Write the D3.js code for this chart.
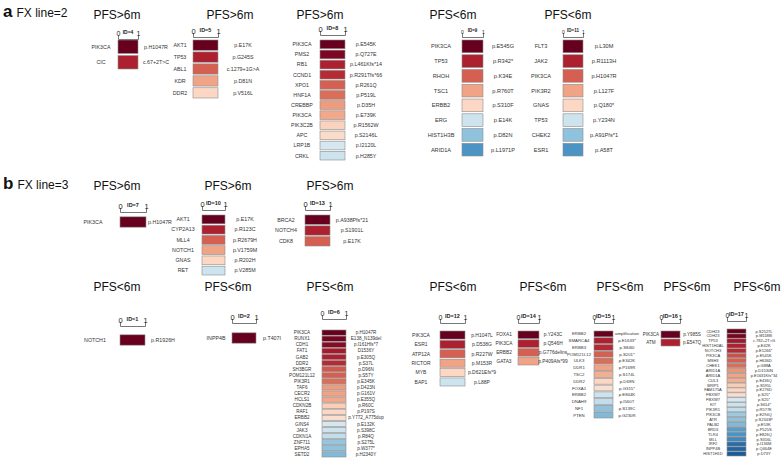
<!DOCTYPE html>
<html><head><meta charset="utf-8">
<script src="https://cdn.jsdelivr.net/npm/d3@7"></script>
<style>body{margin:0;background:#fff}svg{display:block;font-family:"Liberation Sans",Arial,sans-serif}</style>
</head><body><svg id="c" width="783" height="459"></svg>
<script>
// ---------- DATA ----------
const patientIds = [4,5,8,9,11, 7,10,13, 1,2,6,12,14,15,16,17];
const pfsLabels  = ["PFS>6m","PFS>6m","PFS>6m","PFS<6m","PFS<6m",
                    "PFS>6m","PFS>6m","PFS>6m",
                    "PFS<6m","PFS<6m","PFS<6m","PFS<6m","PFS<6m","PFS<6m","PFS<6m","PFS<6m"];
const panelLabels = ["a","b"];
const panelTitles = ["FX line=2","FX line=3"];
const scaleTicks = [0,1];

const genes4 = ["PIK3CA","CIC"];
const muts4  = ["p.H1047R","c.67+2T>C"];
const vals4  = [1.0,0.9];

const genes5 = ["AKT1","TP53","ABL1","KDR","DDR2"];
const muts5  = ["p.E17K","p.G245S","c.1279+1G>A","p.D81N","p.V516L"];
const vals5  = [1.0,0.9,0.8,0.7,0.6];

const genes8 = ["PIK3CA","PMS2","RB1","CCND1","XPO1","HNF1A","CREBBP","PIK3CA","PIK3C2B","APC","LRP1B","CRKL"];
const muts8  = ["p.E545K","p.Q727E","p.L461Kfs*14","p.R291Tfs*66","p.R261Q","p.P519L","p.D35H","p.E739K","p.R1562W","p.S2146L","p.I2120L","p.H285Y"];
const vals8  = [1.0,0.97,0.9,0.88,0.8,0.78,0.71,0.69,0.61,0.59,0.42,0.4];

const genes9 = ["PIK3CA","TP53","RHOH","TSC1","ERBB2","ERG","HIST1H3B","ARID1A"];
const muts9  = ["p.E545G","p.R342*","p.K34E","p.R760T","p.S310F","p.E14K","p.D82N","p.L1971P"];
const vals9  = [1.0,0.9,0.8,0.7,0.6,0.4,0.3,0.2];

const genes11 = ["FLT3","JAK2","PIK3CA","PIK3R2","GNAS","TP53","CHEK2","ESR1"];
const muts11  = ["p.L30M","p.R1113H","p.H1047R","p.L127F","p.Q180*","p.Y234N","p.A91Pfs*1","p.A58T"];
const vals11  = [1.0,0.9,0.8,0.7,0.6,0.4,0.3,0.2];

const genes7 = ["PIK3CA"];
const muts7  = ["p.H1047R"];
const vals7  = [1.0];

const genes10 = ["AKT1","CYP2A13","MLL4","NOTCH1","GNAS","RET"];
const muts10  = ["p.E17K","p.R123C","p.R2679H","p.V1759M","p.R202H","p.V285M"];
const vals10  = [1.0,0.9,0.8,0.7,0.6,0.4];

const genes13 = ["BRCA2","NOTCH4","CDK8"];
const muts13  = ["p.A938Pfs*21","p.S1901L","p.E17K"];
const vals13  = [1.0,0.9,0.8];

const genes1 = ["NOTCH1"];
const muts1  = ["p.R1926H"];
const vals1  = [1.0];

const genes2 = ["INPP4B"];
const muts2  = ["p.T407I"];
const vals2  = [1.0];

const genes6 = ["PIK3CA","RUNX1","CDH1","FAT1","GAB2","DDR2","SH3BGR","POM121L12","PIK3R1","TAF6","CECR2","HCLS1","CDKN2B","RAF1","ERBB2","GINS4","JAK3","CDKN1A","ZNF711","EPHA5","SETD2"];
const muts6  = ["p.H1047R","E138_N139del","p.I161Hfs*7","D1536Y","p.E305Q","p.S37L","p.D96N","p.S57Y","p.E345K","p.D423N","p.G161V","p.E355Q","p.R60C","p.P197S","p.Y772_A775dup","p.E132K","p.S398C","p.R84Q","p.S275L","p.W377*","p.H2340Y"];
const vals6  = [1.0,0.98,0.96,0.91,0.9,0.88,0.81,0.8,0.78,0.71,0.7,0.69,0.62,0.6,0.58,0.42,0.4,0.38,0.31,0.3,0.28];

const genes12 = ["PIK3CA","ESR1","ATP12A","RICTOR","MYB","BAP1"];
const muts12  = ["p.H1047L","p.D538G","p.R227W","p.M153R","p.D621Efs*9","p.L88P"];
const vals12  = [1.0,0.9,0.8,0.7,0.6,0.4];

const genes14 = ["FOXA1","PIK3CA","ERBB2","GATA3"];
const muts14  = ["p.Y243C","p.Q546H","p.G776delins","p.P409Afs*99"];
const vals14  = [1.0,0.9,0.8,0.7];

const genes15 = ["ERBB2","SMARCA4","ERBB3","POM121L12","ULK3","DDR1","TSC2","DDR2","FOXA1","ERBB2","DNAH9","NF1","PTEN"];
const muts15  = ["amplification","p.E1633*","p.S846I","p.S201*","p.E342K","p.P169R","p.S174L","p.D69N","p.G315*","p.E844K","p.I560T","p.S139C","p.G230R"];
const vals15  = [1.0,0.9,0.88,0.8,0.78,0.7,0.68,0.6,0.58,0.4,0.38,0.3,0.28];

const genes16 = ["PIK3CA","ATM"];
const muts16  = ["p.Y985S","p.E547Q"];
const vals16  = [1.0,0.9];

const genes17 = ["CDH23","CDH23","TP53","HIST1H2AL","NOTCH3","PIK3CA","MSH3","CHEK1","ARID1A","ARID1A","CUL3","BRIP1","FAM175A","FBXW7","FBXW7","KIT","PIK3R1","PIK3CB","ATR","PALB2","BRD3","TLR4","MLL","IRF2","INPP4B","HIST1H1D"];
const muts17  = ["p.S2527L","p.M1188I","c.782+2T>G","p.E42K","p.E1266*","p.E545K","p.H636D","p.G88A","p.D1530N","p.E1631Kfs*34","p.E436Q","p.S595L","p.E276D","p.S25*","p.S25*","p.S614*","p.R577K","p.E294Q","p.S2343P","p.E53K","p.P525S","p.E826Q","p.S316L","p.I136M","p.Q464E","p.D73Y"];
const vals17  = [1.0,0.98,0.92,0.9,0.88,0.82,0.8,0.78,0.72,0.7,0.68,0.62,0.6,0.58,0.42,0.4,0.38,0.32,0.3,0.28,0.22,0.2,0.18,0.12,0.1,0.08];

const geneLists = [genes4,genes5,genes8,genes9,genes11,genes7,genes10,genes13,genes1,genes2,genes6,genes12,genes14,genes15,genes16,genes17];
const mutLists  = [muts4,muts5,muts8,muts9,muts11,muts7,muts10,muts13,muts1,muts2,muts6,muts12,muts14,muts15,muts16,muts17];
const valLists  = [vals4,vals5,vals8,vals9,vals11,vals7,vals10,vals13,vals1,vals2,vals6,vals12,vals14,vals15,vals16,vals17];

// ---------- LAYOUT (positions / sizes only) ----------
const layout = {
  4:  {tx:117, ty:19,  by:39,  x0:118, x1:138, y0:40,  y1:69,  lx:101, rx:156, fs:5.3, afs:7,   ifs:5},
  5:  {tx:230, ty:19,  by:37,  x0:193, x1:218, y0:40,  y1:98,  lx:180, rx:243, fs:5.3, afs:7.5, ifs:5.5},
  8:  {tx:320, ty:19,  by:35,  x0:320, x1:345, y0:40,  y1:160, lx:302, rx:366, fs:5.3, afs:7.5, ifs:5.5},
  9:  {tx:453, ty:19,  by:37,  x0:462, x1:483, y0:40,  y1:156, lx:441, rx:503, fs:5.6, afs:5,   ifs:4.5},
  11: {tx:568, ty:19,  by:37,  x0:563, x1:583, y0:40,  y1:156, lx:541, rx:604, fs:5.6, afs:5,   ifs:4.5},
  7:  {tx:117, ty:190, by:212, x0:120, x1:146, y0:216, y1:228, lx:93,  rx:160, fs:5.3, afs:7.5, ifs:5.5},
  10: {tx:228, ty:190, by:210, x0:202, x1:225, y0:215, y1:275, lx:183, rx:245, fs:5.3, afs:7.5, ifs:5.5},
  13: {tx:330, ty:190, by:210, x0:305, x1:330, y0:215, y1:246, lx:286, rx:352, fs:5.3, afs:7.5, ifs:5.5},
  1:  {tx:117, ty:291, by:326, x0:120, x1:145, y0:334, y1:346, lx:95,  rx:163, fs:5.3, afs:7.5, ifs:5.5},
  2:  {tx:228, ty:291, by:323, x0:232, x1:256, y0:332, y1:344, lx:216, rx:272, fs:5.3, afs:7.5, ifs:5.5},
  6:  {tx:330, ty:291, by:319, x0:322, x1:346, y0:330, y1:457, lx:302, rx:366, fs:4.6, afs:7,   ifs:5.5},
  12: {tx:453, ty:291, by:323, x0:440, x1:465, y0:331, y1:386, lx:421, rx:482, fs:5,   afs:7,   ifs:5.5},
  14: {tx:543, ty:291, by:323, x0:518, x1:539, y0:331, y1:365, lx:504, rx:553, fs:4.8, afs:7,   ifs:5.5},
  15: {tx:620, ty:291, by:323, x0:594, x1:613, y0:331, y1:418, lx:579, rx:627, fs:4.3, afs:7,   ifs:5.5},
  16: {tx:687, ty:291, by:323, x0:661, x1:680, y0:331, y1:346, lx:651, rx:692, fs:4.6, afs:7,   ifs:5.5},
  17: {tx:757, ty:291, by:321, x0:727, x1:746, y0:329, y1:456, lx:713, rx:764, fs:4,   afs:7,   ifs:5.5}
};
const panelPos = [{x:3, y:17}, {x:3, y:189}];

// ---------- DRAW ----------
const svg = d3.select("#c");
const color = d3.scaleSequential(d3.interpolateRdBu).domain([1, 0]);

panelLabels.forEach((p, i) => {
  const t = svg.append("text").attr("x", panelPos[i].x).attr("y", panelPos[i].y).attr("fill", "#111");
  t.append("tspan").attr("font-size", 17).attr("font-weight", "bold").text(p);
  t.append("tspan").attr("dx", 4).attr("font-size", 12).text(panelTitles[i]);
});

patientIds.forEach((id, gi) => {
  const L = layout[id];
  const genes = geneLists[gi], muts = mutLists[gi], vals = valLists[gi];
  const g = svg.append("g");

  g.append("text").attr("x", L.tx).attr("y", L.ty).attr("text-anchor", "middle")
    .attr("font-size", 12).attr("fill", "#111").text(pfsLabels[gi]);

  const x = d3.scaleLinear().domain([0, 1]).range([L.x0, L.x1]);
  const y = d3.scaleBand().domain(d3.range(genes.length)).range([L.y0, L.y1]).paddingInner(0.14);

  const ax = g.append("g").attr("transform", `translate(0,${L.by})`)
    .call(d3.axisTop(x).tickValues(scaleTicks).tickFormat(d3.format("d"))
      .tickSizeInner(0).tickSizeOuter(4).tickPadding(3));
  ax.select(".domain").attr("stroke", "#555").attr("stroke-width", 0.8);
  ax.selectAll(".tick line").remove();
  ax.selectAll(".tick text").attr("font-size", L.afs).attr("fill", "#222")
    .attr("font-family", '"Liberation Sans",Arial,sans-serif');

  g.append("text").attr("x", (L.x0 + L.x1) / 2).attr("y", L.by - 5)
    .attr("text-anchor", "middle").attr("font-size", L.ifs).attr("font-weight", "bold")
    .attr("fill", "#222").text("ID=" + id);

  g.selectAll("rect.cell").data(vals).join("rect").attr("class", "cell")
    .attr("x", x(0)).attr("width", x(1) - x(0))
    .attr("y", (d, i) => y(i)).attr("height", y.bandwidth())
    .attr("fill", d => color(d)).attr("stroke", "#8c8c8c").attr("stroke-width", 0.6);

  g.selectAll("text.gl").data(genes).join("text").attr("class", "gl")
    .attr("x", L.lx).attr("y", (d, i) => y(i) + y.bandwidth() / 2)
    .attr("dy", "0.35em").attr("text-anchor", "middle")
    .attr("font-size", L.fs).attr("fill", "#333").text(d => d);

  g.selectAll("text.ml").data(muts).join("text").attr("class", "ml")
    .attr("x", L.rx).attr("y", (d, i) => y(i) + y.bandwidth() / 2)
    .attr("dy", "0.35em").attr("text-anchor", "middle")
    .attr("font-size", L.fs).attr("fill", "#333").text(d => d);
});
</script>
</body></html>
